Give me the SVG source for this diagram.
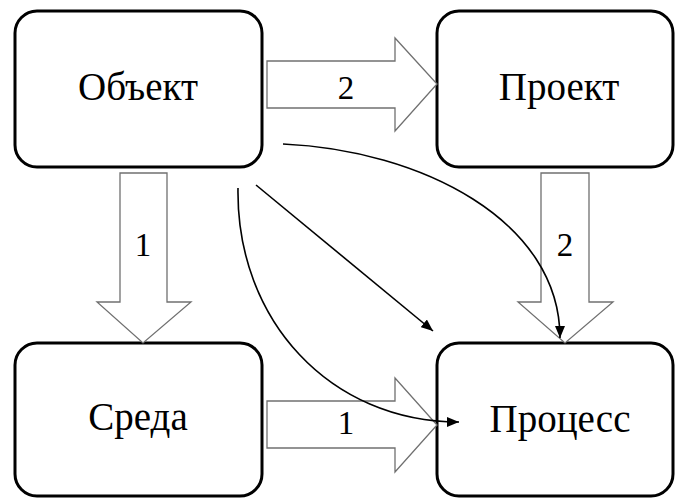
<svg xmlns="http://www.w3.org/2000/svg" width="676" height="498" viewBox="0 0 676 498">
<defs>
<style>
.box{fill:#fff;stroke:#000;stroke-width:3}
.lbl{font-family:'Liberation Serif','Times New Roman',serif;font-size:39px;fill:#000;text-anchor:middle}
.num{font-family:'Liberation Serif','Times New Roman',serif;font-size:33px;fill:#000;text-anchor:middle}
.blk{fill:#fff;stroke:#707070;stroke-width:1.3}
.thin{fill:none;stroke:#000;stroke-width:1.6}
</style>
<marker id="ah" viewBox="0 0 12 10" refX="12" refY="5" markerWidth="12" markerHeight="10" markerUnits="userSpaceOnUse" orient="auto">
<path d="M0,0 L12,5 L0,10 Z" fill="#000"/>
</marker>
</defs>
<rect width="676" height="498" fill="#fff"/>
<g id="node-object">
<rect class="box" x="15" y="11" width="247" height="156" rx="22"/>
<text class="lbl" x="138" y="100">Объект</text>
</g>
<g id="node-project">
<rect class="box" x="437" y="11" width="236" height="156" rx="22"/>
<text class="lbl" x="559" y="100">Проект</text>
</g>
<g id="node-sreda">
<rect class="box" x="15" y="343" width="247" height="153" rx="22"/>
<text class="lbl" x="138" y="430">Среда</text>
</g>
<g id="node-process">
<rect class="box" x="437" y="343" width="236" height="153" rx="22"/>
<text class="lbl" x="560" y="432">Процесс</text>
</g>
<g id="connectors">
<g id="arrow-obj-proj">
<path class="blk" d="M267,61 H395 V38 L437,84 L395,131 V108 H267 Z"/>
<text class="num" x="346" y="99">2</text>
</g>
<g id="arrow-obj-sreda">
<path class="blk" d="M120,173 H167 V302 H191 L143,343 L97,302 H120 Z"/>
<text class="num" x="143" y="256">1</text>
</g>
<g id="arrow-sreda-proc">
<path class="blk" d="M267,401 H395 V378 L437,425 L395,472 V448 H267 Z"/>
<text class="num" x="346" y="434">1</text>
</g>
<g id="arrow-proj-proc">
<path class="blk" d="M541,173 H589 V302 H613 L565,343 L518,302 H541 Z"/>
<text class="num" x="565" y="256">2</text>
</g>
<path class="thin" marker-end="url(#ah)" d="M283,144 C420,150 560,220 560,338"/>
<path class="thin" marker-end="url(#ah)" d="M256,185 L433,331"/>
<path class="thin" marker-end="url(#ah)" d="M238,188 C236,320 330,422 459,422"/>
</g>
</svg>
